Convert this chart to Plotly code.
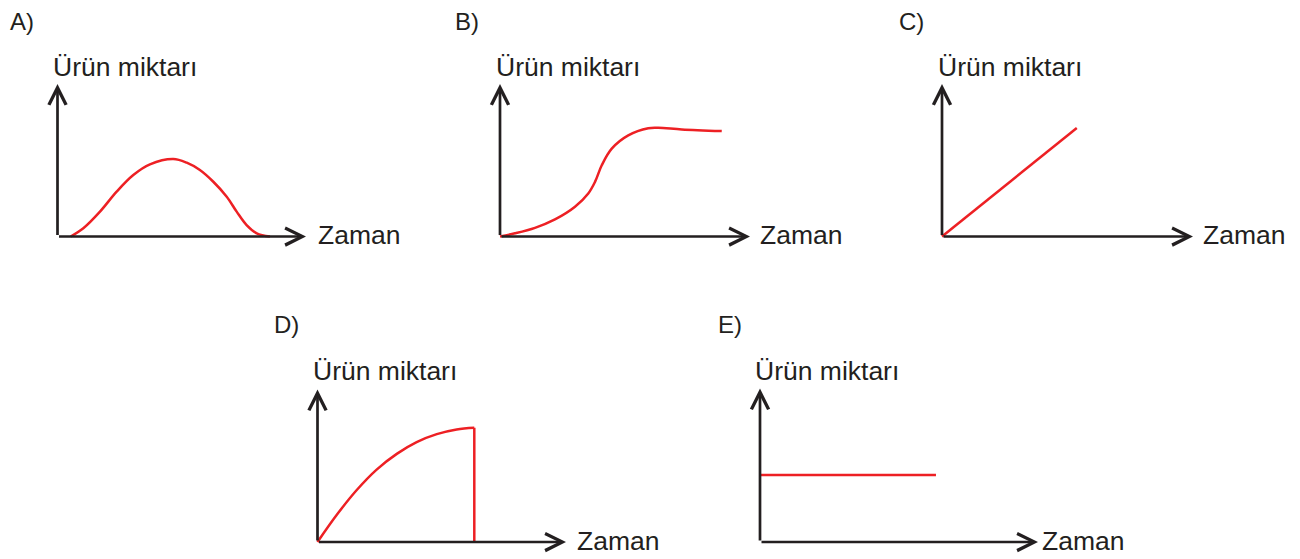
import plotly.graph_objects as go

# ---------------- DATA (units: arrow tip of each axis = 10) ----------------
# A) rise and fall
a_time = [0.53, 1.04, 1.71, 2.38, 3.05, 3.72, 4.66, 5.20, 5.73, 6.27, 6.81, 7.21, 7.61, 8.02, 8.55]
a_amount = [0.0, 0.54, 1.63, 2.94, 4.03, 4.73, 5.08, 4.84, 4.36, 3.59, 2.61, 1.63, 0.75, 0.21, 0.0]

# B) sigmoid with plateau
b_time = [0.0, 0.6, 1.4, 2.2, 3.0, 3.53, 3.8, 4.07, 4.47, 5.13, 5.93, 6.33, 7.27, 8.87]
b_amount = [0.0, 0.21, 0.57, 1.12, 1.95, 2.82, 3.58, 4.67, 5.76, 6.63, 7.10, 7.13, 7.02, 6.91]

# C) linear increase
c_time = [0.0, 5.37]
c_amount = [0.0, 7.11]

# D) saturating increase then sudden drop
d_time = [0.0, 0.77, 1.58, 2.38, 3.19, 3.99, 4.80, 5.60, 6.31]
d_amount = [0.0, 1.77, 3.41, 4.75, 5.78, 6.55, 7.07, 7.38, 7.49]
d_drop_time = [6.31, 6.31]
d_drop_amount = [7.49, 0.0]

# E) constant
e_time = [0.0, 6.33]
e_amount = [4.36, 4.36]

panel_labels = ["A)", "B)", "C)", "D)", "E)"]
y_title = "Ürün miktarı"
x_title = "Zaman"

# ---------------- LAYOUT / STYLE ----------------
W, H = 1300, 559
RED = "#ED2024"
INK = "#231F20"
FONT = "Liberation Sans, Arial, sans-serif"
LO, HI = -0.4, 10.4

# pixel geometry of each panel: origin (ox, oy), x-arrow tip tx, y-arrow tip ty
geom = [
    dict(ox=57.5, oy=236.5, tx=306, ty=84, lab=(8, 21.5), yt=(51, 67.5), xt=(315.5, 235.5)),
    dict(ox=500, oy=236.5, tx=750, ty=84, lab=(453, 21.5), yt=(494, 67.5), xt=(757.5, 235.5)),
    dict(ox=942, oy=236.5, tx=1193, ty=84, lab=(896.5, 21.5), yt=(936, 67.5), xt=(1200.5, 235.5)),
    dict(ox=317.5, oy=542, tx=566, ty=389.5, lab=(272, 324), yt=(311, 371), xt=(574.5, 541)),
    dict(ox=760, oy=542, tx=1038, ty=388.5, lab=(716, 324), yt=(752.5, 371), xt=(1039.5, 541)),
]

series = [
    [(a_time, a_amount, "spline")],
    [(b_time, b_amount, "spline")],
    [(c_time, c_amount, "linear")],
    [(d_time, d_amount, "spline"), (d_drop_time, d_drop_amount, "linear")],
    [(e_time, e_amount, "linear")],
]

fig = go.Figure()
annotations = []
layout_axes = {}

for i, (g, sers) in enumerate(zip(geom, series)):
    n = i + 1
    xa = "x" if n == 1 else f"x{n}"
    ya = "y" if n == 1 else f"y{n}"
    ppx = (g["tx"] - g["ox"]) / 10.0
    ppy = (g["oy"] - g["ty"]) / 10.0
    x0 = (g["ox"] + LO * ppx) / W
    x1 = (g["ox"] + HI * ppx) / W
    y0 = 1 - (g["oy"] - LO * ppy) / H
    y1 = 1 - (g["oy"] - HI * ppy) / H
    layout_axes["xaxis" if n == 1 else f"xaxis{n}"] = dict(
        domain=[x0, x1], range=[LO, HI], visible=False, anchor=ya, fixedrange=True)
    layout_axes["yaxis" if n == 1 else f"yaxis{n}"] = dict(
        domain=[y0, y1], range=[LO, HI], visible=False, anchor=xa, fixedrange=True)

    for xs, ys, shape in sers:
        line = dict(color=RED, width=2.5, shape=shape)
        if shape == "spline":
            line["smoothing"] = 1.0
        fig.add_trace(go.Scatter(x=xs, y=ys, mode="lines", line=line,
                                 xaxis=xa, yaxis=ya, showlegend=False,
                                 hoverinfo="skip", cliponaxis=False))

    # axis arrows
    for (tx_, ty_) in [(10, 0), (0, 10)]:
        annotations.append(dict(
            x=tx_, y=ty_, ax=0, ay=0, xref=xa, yref=ya, axref=xa, ayref=ya,
            text="", showarrow=True, arrowhead=5, arrowsize=1.25, arrowwidth=2.7,
            arrowcolor=INK, standoff=0, startstandoff=0))

    # texts
    annotations.append(dict(x=g["lab"][0] / W, y=1 - g["lab"][1] / H, xref="paper", yref="paper",
                            text=panel_labels[i], showarrow=False, xanchor="left", yanchor="middle",
                            font=dict(family=FONT, size=24, color=INK)))
    annotations.append(dict(x=g["yt"][0] / W, y=1 - g["yt"][1] / H, xref="paper", yref="paper",
                            text=y_title, showarrow=False, xanchor="left", yanchor="middle",
                            font=dict(family=FONT, size=26.5, color=INK)))
    annotations.append(dict(x=g["xt"][0] / W, y=1 - g["xt"][1] / H, xref="paper", yref="paper",
                            text=x_title, showarrow=False, xanchor="left", yanchor="middle",
                            font=dict(family=FONT, size=26.5, color=INK)))

fig.update_layout(
    width=W, height=H, autosize=False,
    margin=dict(l=0, r=0, t=0, b=0, pad=0),
    paper_bgcolor="white", plot_bgcolor="rgba(0,0,0,0)",
    annotations=annotations,
    **layout_axes,
)

fig.write_html("out.html", config={"displayModeBar": False},
               post_script="document.body.style.margin='0';document.body.style.padding='0';")
